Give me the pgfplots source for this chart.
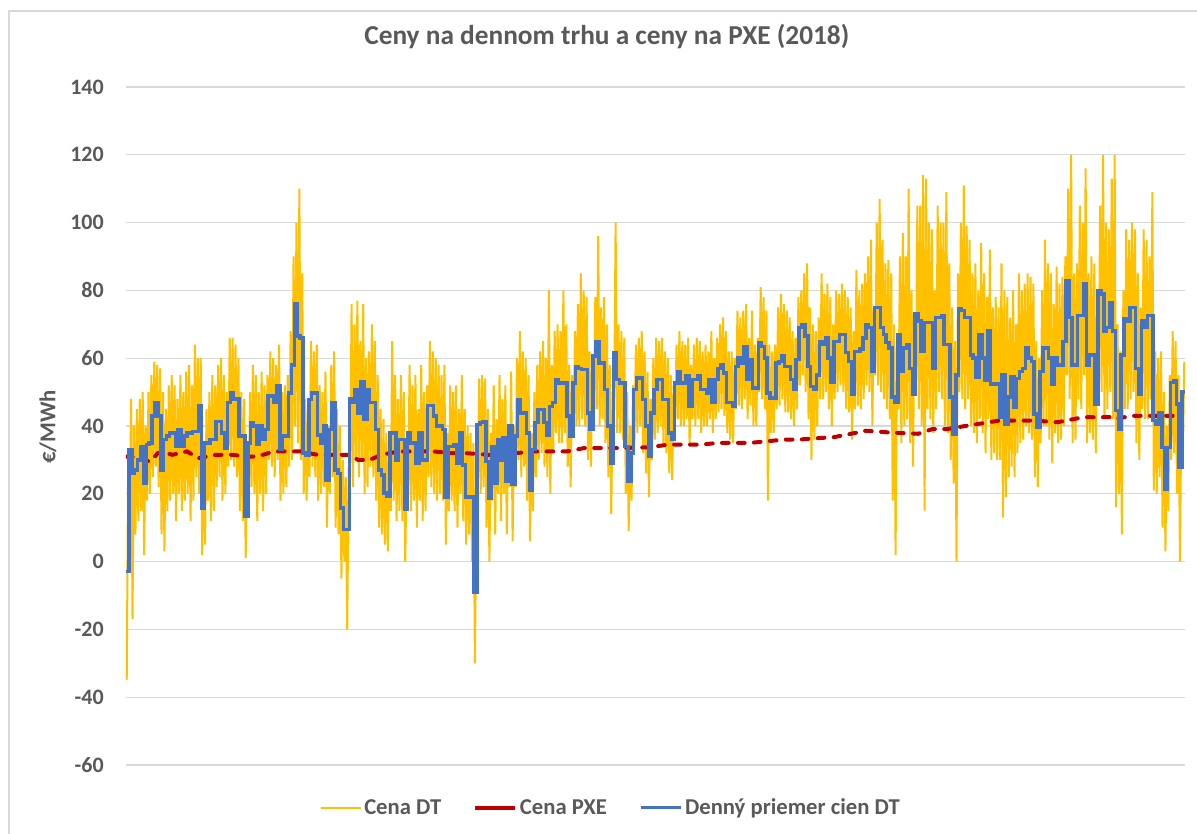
\documentclass[border=0pt]{standalone}
\usepackage{pgfplots}
\pgfplotsset{compat=1.18}
\usepackage{pgfplotstable}
\usepackage{fontspec}
\setmainfont{Carlito}
\definecolor{cdt}{HTML}{FFC000}
\definecolor{cpxe}{HTML}{C00000}
\definecolor{cavg}{HTML}{4472C4}
\definecolor{txt}{HTML}{595959}
\definecolor{grd}{HTML}{D9D9D9}

% hourly price band: per day a low and a high value (days 0..364)
\pgfplotstableread[row sep=\\]{
y\\
-35\\30\\5\\48\\-17\\40\\8\\45\\12\\48\\15\\50\\2\\40\\18\\50\\20\\55\\25\\59\\
28\\58\\22\\57\\8\\50\\3\\45\\15\\52\\18\\55\\20\\52\\12\\48\\20\\55\\15\\50\\
18\\56\\20\\58\\12\\52\\18\\64\\25\\60\\20\\60\\2\\30\\5\\45\\18\\50\\12\\55\\
15\\52\\22\\58\\25\\60\\18\\55\\20\\50\\28\\66\\30\\66\\28\\64\\25\\60\\15\\50\\
12\\48\\1\\30\\15\\50\\22\\58\\20\\55\\12\\50\\20\\56\\15\\52\\20\\55\\30\\62\\
28\\60\\25\\58\\30\\64\\18\\50\\20\\52\\22\\55\\28\\68\\30\\90\\40\\100\\35\\110\\
30\\85\\20\\48\\18\\45\\25\\65\\28\\62\\25\\64\\18\\52\\20\\50\\22\\56\\10\\40\\
20\\58\\25\\62\\10\\45\\8\\40\\-5\\30\\0\\25\\-20\\28\\25\\76\\22\\70\\30\\77\\
25\\65\\30\\76\\20\\60\\22\\62\\28\\70\\25\\65\\18\\55\\10\\45\\8\\42\\5\\38\\
3\\35\\15\\65\\18\\55\\12\\48\\15\\55\\12\\50\\0\\30\\20\\58\\15\\52\\18\\55\\
10\\45\\18\\58\\12\\50\\15\\52\\25\\65\\22\\62\\20\\60\\18\\58\\20\\55\\18\\58\\
5\\38\\15\\52\\18\\50\\15\\52\\10\\45\\20\\55\\12\\45\\5\\40\\8\\38\\0\\35\\
-30\\15\\22\\54\\20\\55\\22\\54\\10\\45\\0\\38\\18\\52\\8\\42\\20\\55\\12\\48\\
20\\52\\8\\40\\22\\56\\6\\40\\22\\60\\30\\68\\25\\62\\28\\60\\18\\55\\6\\38\\
15\\50\\25\\58\\30\\62\\32\\65\\28\\60\\25\\80\\20\\58\\32\\68\\38\\70\\35\\68\\
35\\80\\38\\70\\28\\58\\22\\55\\38\\68\\40\\76\\40\\85\\42\\80\\40\\78\\30\\62\\
28\\58\\40\\78\\45\\96\\40\\75\\42\\78\\35\\70\\25\\58\\14\\50\\45\\100\\38\\70\\
38\\68\\36\\66\\20\\50\\9\\40\\18\\52\\36\\64\\38\\66\\40\\68\\32\\62\\26\\56\\
19\\48\\30\\60\\36\\66\\38\\65\\40\\66\\34\\62\\32\\60\\26\\55\\24\\52\\40\\64\\
42\\68\\40\\65\\40\\64\\42\\66\\34\\58\\42\\64\\40\\66\\42\\65\\38\\62\\40\\64\\
40\\62\\42\\68\\38\\60\\42\\66\\44\\70\\45\\72\\43\\68\\38\\62\\36\\62\\35\\60\\
45\\74\\46\\72\\45\\74\\48\\76\\42\\66\\46\\74\\40\\64\\40\\66\\50\\81\\48\\78\\
45\\74\\18\\64\\38\\62\\38\\64\\45\\75\\46\\79\\48\\76\\44\\74\\44\\72\\42\\68\\
40\\66\\45\\78\\52\\80\\55\\85\\50\\88\\42\\75\\30\\70\\36\\68\\40\\72\\48\\85\\
48\\79\\50\\82\\45\\78\\40\\70\\48\\80\\50\\79\\52\\82\\50\\80\\45\\78\\44\\75\\
36\\68\\45\\86\\46\\80\\45\\82\\48\\85\\52\\90\\50\\95\\40\\75\\55\\100\\52\\107\\
50\\95\\48\\88\\45\\89\\42\\85\\18\\70\\2\\65\\45\\90\\35\\97\\40\\90\\42\\110\\
35\\80\\28\\70\\50\\105\\45\\105\\40\\114\\15\\113\\45\\100\\42\\98\\38\\80\\45\\105\\
50\\100\\48\\100\\40\\109\\38\\88\\30\\75\\23\\65\\0\\85\\50\\100\\48\\111\\45\\99\\
48\\95\\40\\85\\38\\88\\35\\80\\42\\94\\38\\85\\32\\78\\42\\92\\30\\75\\32\\78\\
30\\75\\30\\88\\13\\80\\19\\78\\25\\72\\28\\80\\25\\70\\32\\85\\35\\80\\36\\82\\
40\\85\\38\\84\\36\\82\\25\\65\\22\\60\\35\\80\\40\\95\\40\\88\\36\\85\\29\\76\\
38\\87\\35\\82\\36\\84\\40\\90\\55\\110\\48\\120\\35\\85\\36\\88\\48\\105\\45\\100\\
55\\116\\35\\85\\38\\90\\36\\88\\32\\68\\52\\105\\50\\120\\42\\100\\45\\98\\50\\113\\
42\\120\\16\\70\\20\\62\\8\\80\\45\\98\\45\\95\\48\\100\\50\\98\\35\\85\\30\\75\\
45\\98\\42\\95\\42\\90\\48\\109\\21\\62\\20\\60\\25\\62\\10\\50\\3\\40\\15\\55\\
30\\68\\32\\65\\20\\55\\0\\45\\30\\59\\
}\ydt

% daily average (days 0..364, plus end point)
\pgfplotstableread[row sep=\\]{
y\\
-3\\33\\26\\27\\30\\34\\23\\34.5\\35\\43\\
47\\43\\27\\36\\37\\38\\38\\34\\39\\34\\
37\\38\\38\\38.4\\38.4\\46\\15.8\\35\\35\\36\\
36\\41.4\\41.4\\38\\33.5\\47\\49.8\\48\\48\\37\\
37\\13.3\\35\\41\\40\\34.5\\40\\36\\39\\48.8\\
49\\47\\52\\33\\37\\37\\49.8\\58\\76\\66.5\\
66\\32\\31.5\\47.8\\49.8\\49.8\\37.4\\35\\40\\24\\
39\\47\\27\\26\\15.8\\9.4\\9.4\\48\\47\\50.7\\
43.8\\53\\41.9\\50.7\\47\\47\\39\\27\\25.6\\20.2\\
19.2\\38\\38\\30\\36\\36\\15.3\\38\\35\\35\\
29\\38\\30\\30\\46\\46\\43\\40\\40\\39\\
19\\34\\34\\34.5\\29\\38\\28.5\\19\\19\\19\\
-9\\40.4\\41\\41.4\\29.6\\18.7\\34\\23\\36\\30\\
36.5\\23.6\\40\\22.7\\37\\47.8\\43.8\\43.8\\38\\21\\
33\\41\\44.8\\44.8\\41\\37.4\\45.8\\47\\53.7\\52.7\\
52.7\\52.7\\42.9\\37\\52.7\\57.6\\57\\56.7\\56.7\\43.8\\
39\\60.6\\65\\58.6\\58.6\\50.7\\40\\29\\61.6\\53.7\\
52.7\\52.7\\34\\23.6\\32\\50.7\\54.2\\54.2\\47.8\\40\\
31\\43.8\\50.7\\53.7\\53.7\\47.8\\47.8\\38\\36\\52.7\\
56\\52.7\\52.7\\54.7\\45.8\\53.7\\53.7\\54.7\\50.7\\50.7\\
49.8\\53.7\\47\\53.7\\57\\58\\55.7\\47\\47\\45.8\\
57.6\\60\\58.6\\63.5\\53.7\\59.6\\51.2\\51.2\\64.5\\63.5\\
60\\49.8\\48.3\\48.3\\58.6\\59\\60.6\\57.6\\57.6\\53.7\\
50.7\\59.6\\69\\70\\66.5\\57.6\\51.7\\50.7\\55\\65\\
64\\66\\60\\53\\65\\65\\67\\67\\61.7\\59\\
49.5\\62\\62\\62.7\\66\\70\\69\\56\\75\\75\\
69\\67\\64.7\\63\\48.5\\47\\67\\56\\63\\64\\
57\\49.5\\73\\71\\62\\70.6\\70.6\\70.6\\57\\72\\
72\\72.6\\64\\64\\48.5\\37.7\\55\\74.5\\74\\72\\
72\\61\\60\\54.4\\67\\60\\53.4\\68\\52.4\\52.4\\
52.4\\42.6\\55\\40.6\\48.5\\54.4\\45.5\\54\\56\\57\\
63\\60\\59\\43.5\\39.6\\56\\63\\63\\60\\52.4\\
60\\58\\58\\65\\82.9\\72\\58\\58\\72.6\\72.6\\
82\\58\\61\\61\\46.5\\80\\79\\68\\69\\76.5\\
68\\44.5\\39\\61\\71.6\\71\\75\\75\\57\\49.5\\
71\\69\\72.6\\72.6\\41.6\\40.6\\44\\33.7\\21.4\\33.7\\
52.9\\53.4\\46.5\\27.8\\50\\50\\
}\bdt

\begin{document}
\begin{tikzpicture}
\useasboundingbox (0,0) rectangle (897.75pt,625.5pt);
\draw[grd, line width=1.5pt] (6.75pt,0pt) -- (6.75pt,617.25pt) -- (897.75pt,617.25pt);
\begin{axis}[
  at={(94.5pt,51.75pt)}, anchor=south west,
  width=794.25pt, height=508.5pt, scale only axis,
  xmin=0, xmax=365, ymin=-60, ymax=140,
  xtick=\empty,
  ytick={-60,-40,-20,0,20,40,60,80,100,120,140},
  yticklabels={-60,-40,-20,0,20,40,60,80,100,120,140},
  ymajorgrids, grid style={grd, line width=1pt},
  axis line style={draw=none},
  major tick length=0pt,
  yticklabel style={font=\fontsize{16.5}{19}\selectfont\bfseries, text=txt, anchor=east, inner sep=0pt, xshift=-16.5pt},
  ylabel={€/MWh},
  ylabel style={font=\fontsize{17}{20}\selectfont\bfseries, text=txt, at={(axis description cs:-0.0737,0.4985)}, anchor=center},
  title={Ceny na dennom trhu a ceny na PXE (2018)},
  title style={font=\fontsize{20.5}{24}\selectfont\bfseries, text=txt, at={(axis description cs:0.454,1.062)}, anchor=center},
  legend columns=3,
  legend style={at={(axis description cs:0.458,-0.063)}, anchor=center, draw=none, fill=none,
    font=\fontsize{17}{20}\selectfont\bfseries, text=txt,
    nodes={inner xsep=2pt, inner ysep=1pt},
    /tikz/every even column/.append style={column sep=22pt}},
  legend image code/.code={\draw[#1] (0pt,0pt) -- (30pt,0pt);},
]
\addplot[cdt, line width=1.5pt, mark=none] table[x expr=\coordindex*0.5+0.25, y=y]{\ydt};
\addlegendentry{Cena DT}
\addplot[cpxe, line width=3pt, mark=none, line cap=round, dash pattern=on 5pt off 7pt, legend image post style={solid, line cap=butt}] coordinates {
(0,31) (3,30.8) (6,30) (8.3,29.5) (11,32) (14,32) (16,31.5) (21,32.5) (25,30.5) (28,31)
(31,31.5) (37,31.5) (40.5,31) (45,31) (48,31.7) (51,32.5) (60,32.5) (66,31.5) (77,31.5) (80,30)
(84,30) (88,31.5) (94,32.5) (106,32.5) (112,32) (117,32) (125,31.5) (129,31.5) (140,32.5) (152,32.5)
(158,33.5) (170,33.5) (180,33.7) (187,34.5) (198,34.5) (204,35) (215,35) (221,35.5) (227,36) (232,36)
(240,36.5) (244,36.7) (255,38.6) (263,38.1) (273,37.7) (278,39.1) (283,39.1) (290,40.1) (301,41.6) (313,41.6)
(321,41.1) (330,42.6) (339,42.6) (340,42) (347,43) (358,43) (361.5,43)
};
\addlegendentry{Cena PXE}
\addplot[cavg, line width=2.6pt, mark=none, const plot] table[x expr=\coordindex, y=y]{\bdt};
\addlegendentry{Denný priemer cien DT}
\end{axis}
\end{tikzpicture}
\end{document}
